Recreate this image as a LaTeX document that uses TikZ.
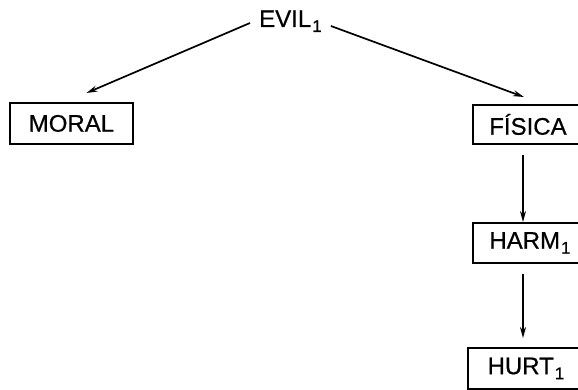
\documentclass[tikz,border=0pt]{standalone}
\usepackage{fontspec}
\setmainfont{Liberation Sans}
\newfontfamily\heavysans[FakeBold=0.6]{Liberation Sans}
\usetikzlibrary{arrows.meta}
\newcommand{\subone}{\kern1pt\raisebox{-5pt}{\fontsize{17}{17}\selectfont 1}}
\begin{document}
\begin{tikzpicture}[x=1pt,y=-1pt,
  lbl/.style={font=\heavysans\fontsize{24}{28}\selectfont, inner sep=0pt},
  box/.style={draw, line width=1.9pt, font=\heavysans\fontsize{24}{28}\selectfont, inner sep=0pt, anchor=north west},
  arr/.style={line width=1.7pt, -{Stealth[length=11pt,width=6pt]}}]
\useasboundingbox (0,0) rectangle (578,390);
\clip (0,0) rectangle (578,390);
\node[lbl, anchor=base west] (evil) at (259,27) {EVIL\subone};
\node[box, minimum width=123pt, minimum height=41pt] (mor) at (9,102) {MORAL};
\node[box, minimum width=110pt, minimum height=39pt] (fis) at (472,104) {FÍSICA};
\node[box, minimum width=114pt, minimum height=40pt] (harm) at (472,222) {HARM\subone};
\node[box, minimum width=116pt, minimum height=41pt] (hurt) at (467,347) {HURT\subone};
\coordinate (vx) at (523,0);
\draw[arr] ([xshift=-9pt,yshift=4pt]evil.base west) -- ([xshift=15pt,yshift=9pt]mor.north);
\draw[arr] ([xshift=9pt,yshift=1pt]evil.base east) -- ([xshift=-4pt,yshift=7pt]fis.north);
\draw[arr] ([yshift=-10pt]vx |- fis.south) -- (vx |- harm.north);
\draw[arr] ([yshift=-10pt]vx |- harm.south) -- ([yshift=9pt]vx |- hurt.north);
\end{tikzpicture}
\end{document}
